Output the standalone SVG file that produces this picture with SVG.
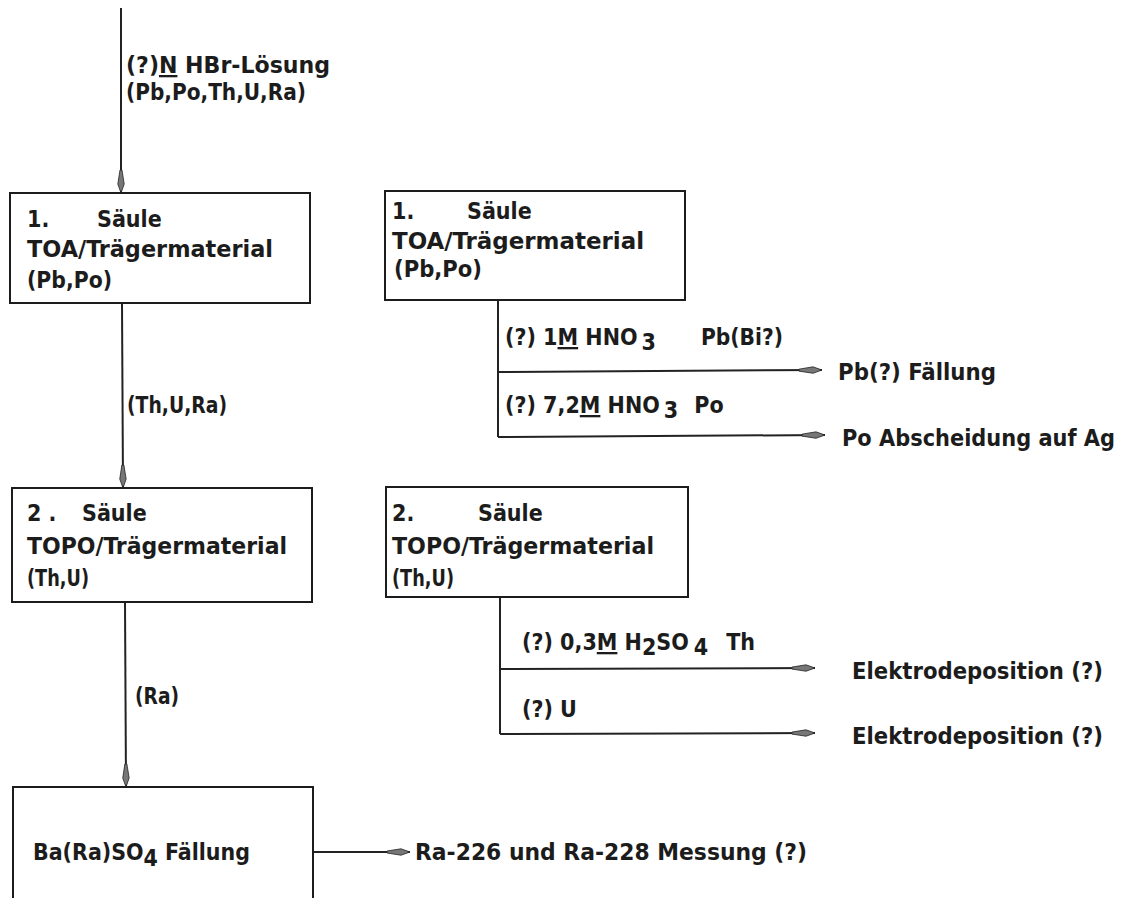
<svg xmlns="http://www.w3.org/2000/svg" width="1121" height="898" viewBox="0 0 1121 898">
<style>
text{font-family:"DejaVu Sans Condensed","DejaVu Sans",sans-serif;font-weight:bold;font-size:23px;fill:#1c1c1c;font-stretch:condensed}
.box{fill:none;stroke:#1c1c1c;stroke-width:2}
.ln{fill:none;stroke:#222;stroke-width:2}
.u{text-decoration:underline}
</style>
<defs>
<marker id="ah" markerUnits="userSpaceOnUse" markerWidth="26" markerHeight="10" viewBox="-24 -5 26 10" refX="0" refY="0" orient="auto">
<path d="M0,0 L-9,-3.2 L-23,-1 L-23,1 L-9,3.2 Z" fill="#777" stroke="#222" stroke-width="0.8"/>
</marker>
</defs>

<g id="connectors">
<line class="ln" x1="121" y1="8" x2="121" y2="193" marker-end="url(#ah)"/>
<line class="ln" x1="122" y1="303" x2="123" y2="488" marker-end="url(#ah)"/>
<line class="ln" x1="125" y1="602" x2="126" y2="787" marker-end="url(#ah)"/>
<line class="ln" x1="313" y1="852" x2="410" y2="852" marker-end="url(#ah)"/>
<polyline class="ln" points="498,300 498,437"/>
<line class="ln" x1="498" y1="372" x2="822" y2="370" marker-end="url(#ah)"/>
<line class="ln" x1="498" y1="437" x2="825" y2="435" marker-end="url(#ah)"/>
<polyline class="ln" points="500,597 500,734"/>
<line class="ln" x1="500" y1="669" x2="815" y2="668" marker-end="url(#ah)"/>
<line class="ln" x1="500" y1="734" x2="815" y2="733" marker-end="url(#ah)"/>
</g>

<g id="input-label">
<text x="126" y="73" textLength="204" lengthAdjust="spacingAndGlyphs">(?)<tspan class="u">N</tspan> HBr-Lösung</text>
<text x="126" y="100" textLength="180" lengthAdjust="spacingAndGlyphs">(Pb,Po,Th,U,Ra)</text>
</g>

<g id="box1">
<rect class="box" x="10" y="193" width="300" height="110"/>
<text x="27" y="227">1.</text>
<text x="97" y="227">Säule</text>
<text x="27" y="257" textLength="246" lengthAdjust="spacingAndGlyphs">TOA/Trägermaterial</text>
<text x="27" y="288" textLength="85" lengthAdjust="spacingAndGlyphs">(Pb,Po)</text>
</g>

<g id="label-thura">
<text x="127" y="413" textLength="100" lengthAdjust="spacingAndGlyphs">(Th,U,Ra)</text>
</g>

<g id="box2">
<rect class="box" x="12" y="488" width="300" height="114"/>
<text x="27" y="521">2 .</text>
<text x="82" y="521">Säule</text>
<text x="27" y="554" textLength="260" lengthAdjust="spacingAndGlyphs">TOPO/Trägermaterial</text>
<text x="27" y="586" textLength="62" lengthAdjust="spacingAndGlyphs">(Th,U)</text>
</g>

<g id="label-ra">
<text x="135" y="704" textLength="44" lengthAdjust="spacingAndGlyphs">(Ra)</text>
</g>

<g id="box3">
<rect class="box" x="13" y="787" width="300" height="130"/>
<text x="33" y="860" textLength="217" lengthAdjust="spacingAndGlyphs">Ba(Ra)SO<tspan dy="6">4</tspan><tspan dy="-6"> Fällung</tspan></text>
</g>

<g id="out-ra">
<text x="415" y="860" textLength="392" lengthAdjust="spacingAndGlyphs">Ra-226 und Ra-228 Messung (?)</text>
</g>

<g id="box1r">
<rect class="box" x="385" y="191" width="300" height="109"/>
<text x="392" y="219">1.</text>
<text x="467" y="219">Säule</text>
<text x="392" y="249" textLength="252" lengthAdjust="spacingAndGlyphs">TOA/Trägermaterial</text>
<text x="394" y="277" textLength="88" lengthAdjust="spacingAndGlyphs">(Pb,Po)</text>
</g>

<g id="branch-pb">
<text x="505" y="345">(?) 1<tspan class="u">M</tspan> HNO<tspan dx="4" dy="5">3</tspan></text>
<text x="701" y="345" textLength="82" lengthAdjust="spacingAndGlyphs">Pb(Bi?)</text>
<text x="838" y="380" textLength="158" lengthAdjust="spacingAndGlyphs">Pb(?) Fällung</text>
</g>

<g id="branch-po">
<text x="505" y="413">(?) 7,2<tspan class="u">M</tspan> HNO<tspan dx="4" dy="5">3</tspan><tspan dx="16" dy="-5">Po</tspan></text>
<text x="842" y="446" textLength="273" lengthAdjust="spacingAndGlyphs">Po Abscheidung auf Ag</text>
</g>

<g id="box2r">
<rect class="box" x="386" y="487" width="302" height="110"/>
<text x="392" y="521">2.</text>
<text x="478" y="521">Säule</text>
<text x="392" y="554" textLength="262" lengthAdjust="spacingAndGlyphs">TOPO/Trägermaterial</text>
<text x="392" y="586" textLength="62" lengthAdjust="spacingAndGlyphs">(Th,U)</text>
</g>

<g id="branch-th">
<text x="522" y="650">(?) 0,3<tspan class="u">M</tspan> H<tspan dy="5">2</tspan><tspan dy="-5">SO</tspan><tspan dx="5" dy="5">4</tspan><tspan dx="18" dy="-5">Th</tspan></text>
<text x="852" y="679" textLength="251" lengthAdjust="spacingAndGlyphs">Elektrodeposition (?)</text>
</g>

<g id="branch-u">
<text x="522" y="717">(?) U</text>
<text x="852" y="744" textLength="251" lengthAdjust="spacingAndGlyphs">Elektrodeposition (?)</text>
</g>
</svg>
